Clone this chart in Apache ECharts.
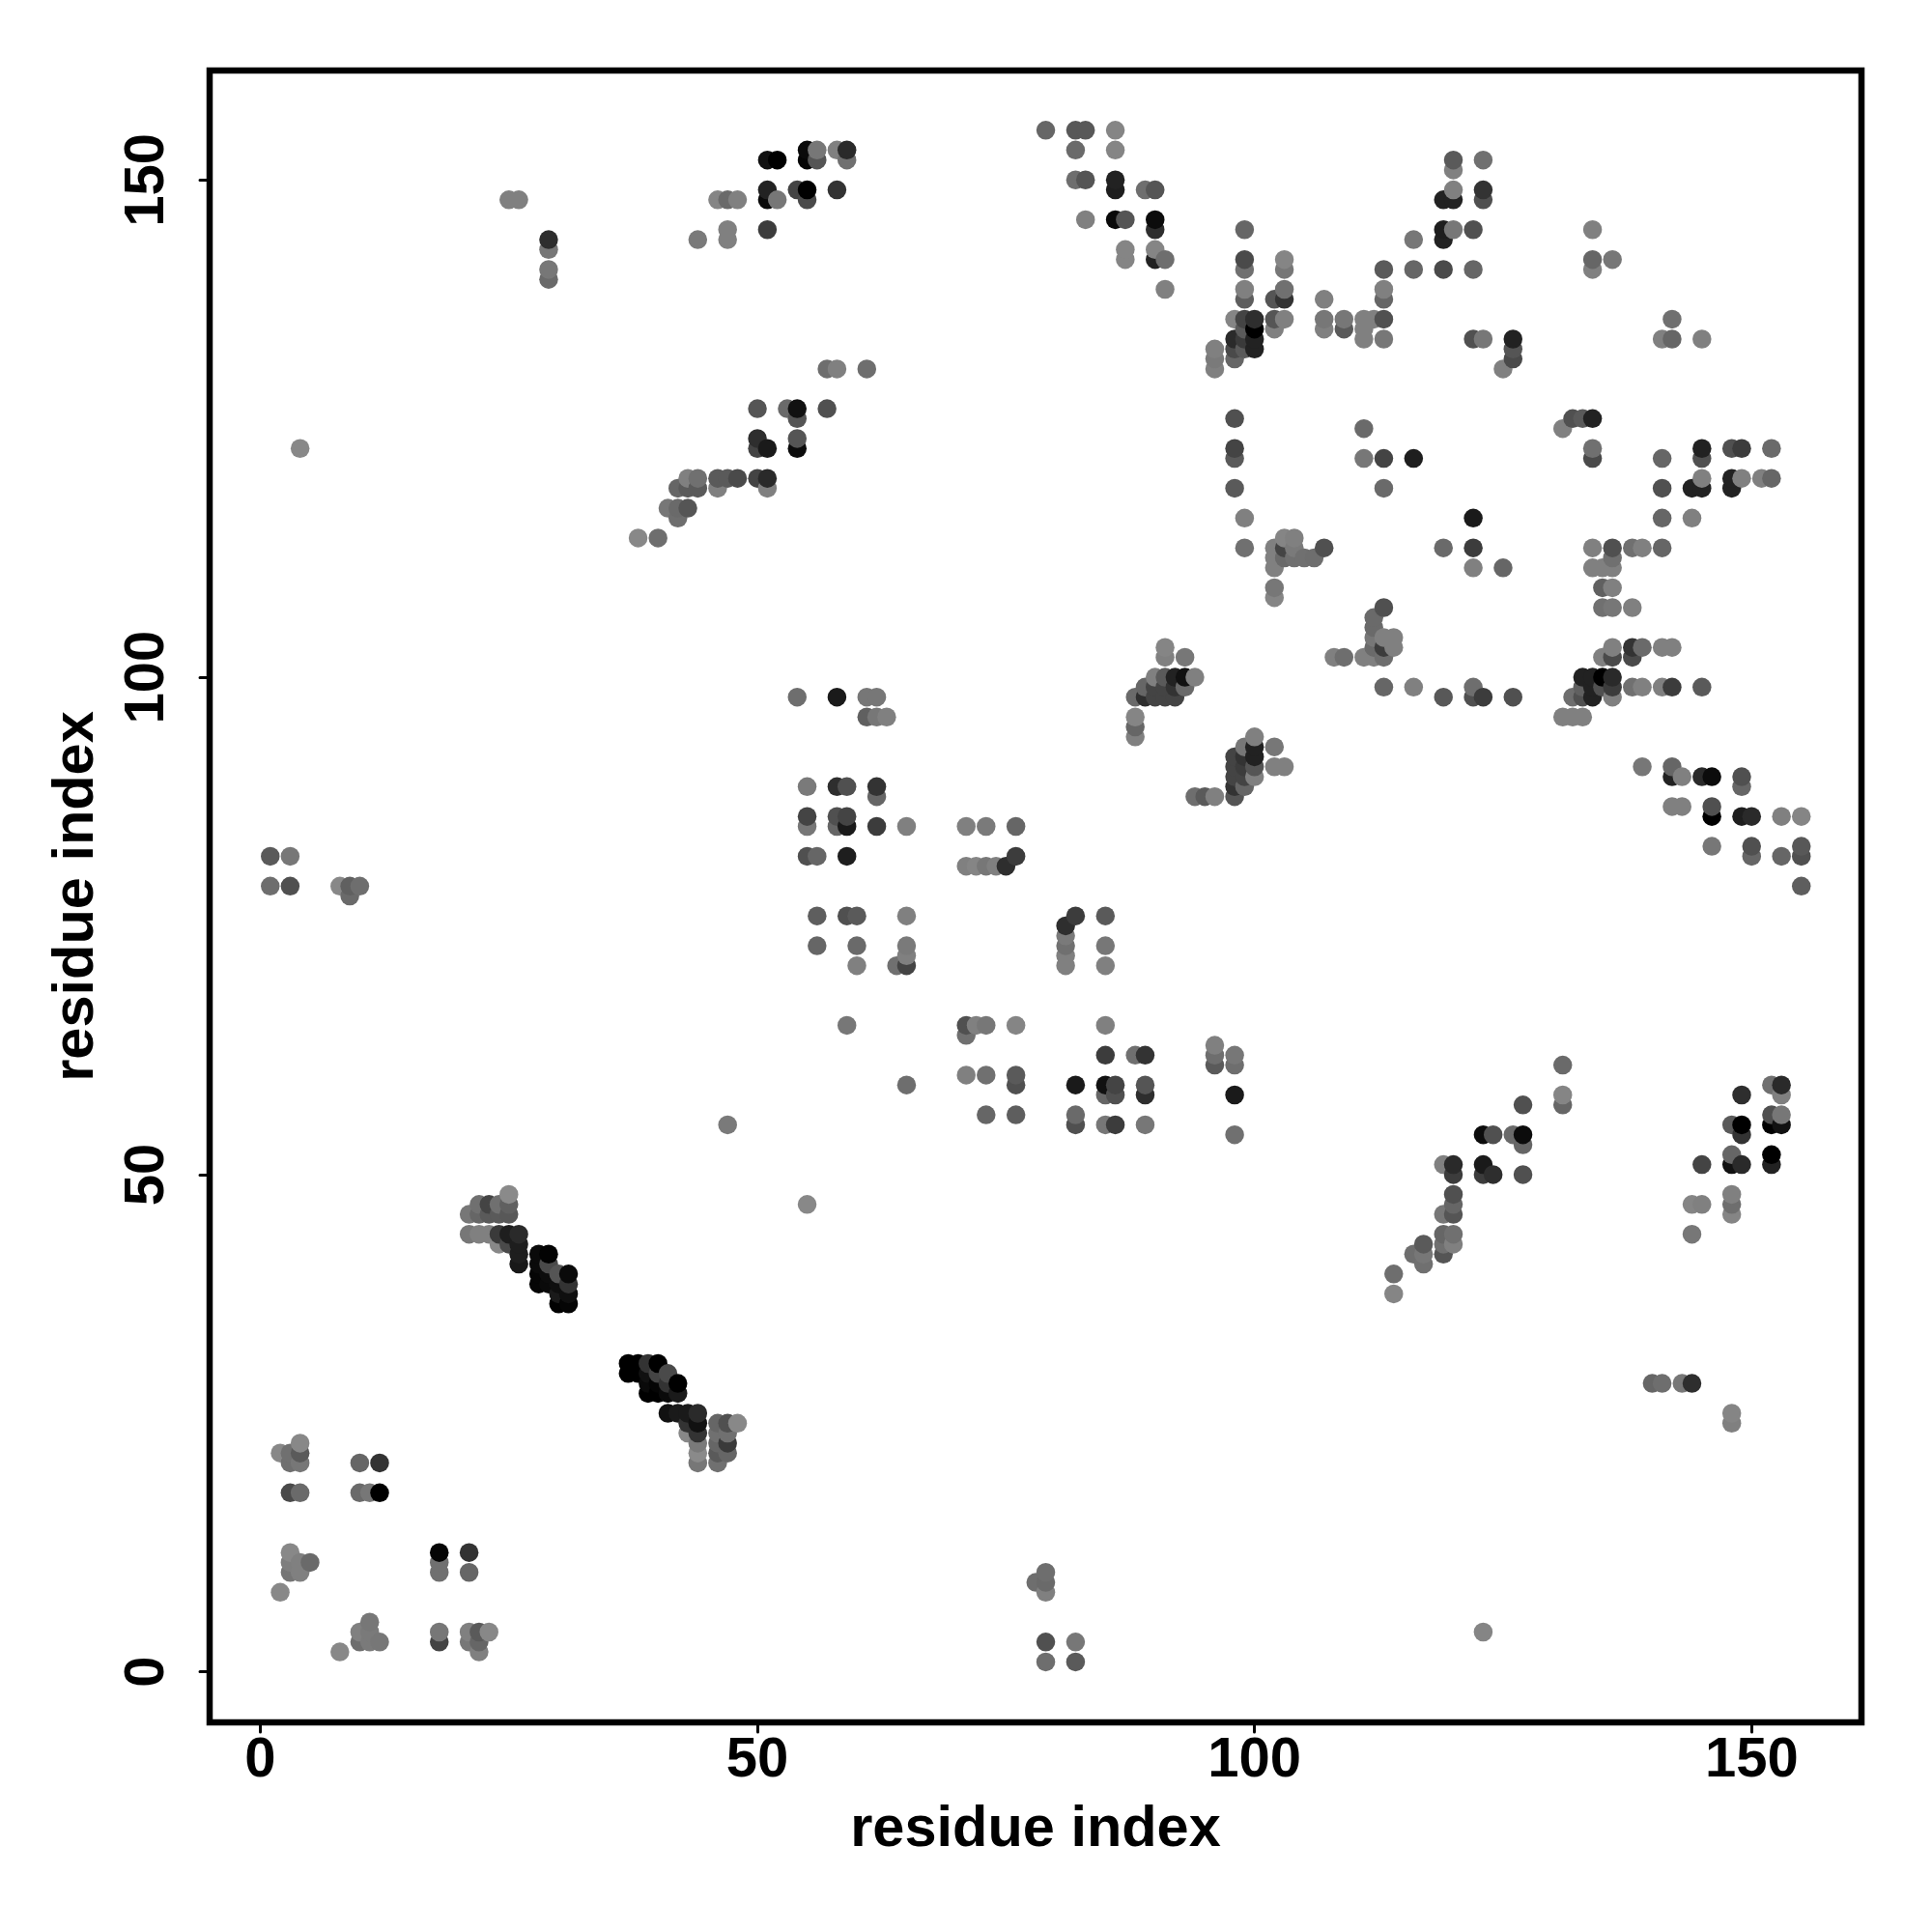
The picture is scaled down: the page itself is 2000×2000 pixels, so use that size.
<!DOCTYPE html>
<html><head><meta charset="utf-8">
<script src="https://cdn.jsdelivr.net/npm/echarts@6/dist/echarts.min.js"></script>
<style>html,body{margin:0;padding:0;background:#fff}#c{width:2000px;height:2000px}</style>
</head><body><div id="c"></div>
<script>
const tickValues=[0,50,100,150];
const axisTitle='residue index';
// residue i, with the contacting residues j and the grey level of each contact
const residueI=[1,2,3,4,5,8,9,10,11,12,18,21,22,23,24,25,26,28,29,30,31,37,38,39,40,41,42,43,44,46,47,48,50,51,52,53,54,55,56,57,58,59,60,61,62,63,64,65,71,72,73,74,75,76,78,79,81,82,83,85,86,87,88,89,90,91,92,93,94,95,96,98,99,100,102,103,104,105,106,107,108,109,111,112,113,114,116,117,119,120,122,123,124,125,126,127,131,132,133,134,135,136,138,139,140,141,142,143,144,145,146,148,149,150,151,152,153,155];
const residueJ=[
[79,82],[8,22],[10,11,12,18,21,22,79,82],[10,11,18,21,22,23,123],[11],[2,79],[78,79],[3,4,18,21,79],[3,4,5,18],[3,18,21],
[3,4,10,11,12],[3,4,10,12,44,46],[2,3,4,44,46,47],[4,44,46,47],[43,44,46,47],[43,44,46,47,48,148],[41,42,43,44,148],[39,40,41,42],[39,40,41,42,140,141,143,144],[37,38,39,40],
[37,38,39,40],[30,31],[30,31,114],[28,29,30,31],[28,29,30,31,114],[26,28,29,30,117],[26,28,29,116,117,119],[24,25,26,117,119,120],[21,22,23,24,25,26,119,120,144],[21,22,23,24,25,119,120,148],
[22,23,24,25,55,120,144,145,148],[25,120,148],[120,123,124,127],[119,120,123,145,148,149,152],[148,152],[127],[98,123,124,126,127,149],[47,82,85,86,89,148,149,152,153],[73,76,82,152,153],[127,131],
[85,86,89,98,131,149,153],[65,76,82,85,86,89,152,153],[71,73,76],[96,98,131],[85,88,89,96,98],[96],[71],[59,71,72,73,76,85],[60,64,65,81,85],[65,81],
[56,60,65,81,85],[81],[81],[56,59,60,65,82,85],[9],[1,3,8,9,10,155],[71,72,73,74,75],[1,3,55,56,59,76,150,153,155],[146,150,155],[55,58,59,62,65,71,73,76],
[55,58,59,146,149,150,153,155],[142,143,146],[62,94,95,96,98],[55,58,59,62,98,99,149],[98,99,100,142,143,145,146,149],[98,99,100,102,103,139,142],[98,99,100],[99,100,102],[88,100],[88],
[61,62,63,88,131,132,133],[54,58,61,62,88,89,90,91,92,119,122,123,126,132,133,134,136],[89,90,91,92,93,113,116,133,134,135,136,138,139,141,142,145],[90,91,92,93,94,133,134,135,136],[91,93,108,109,111,112,113,135,136,138],[91,112,113,114,136,138,139,141,142],[112,113,114],[112],[112],[113,135,136,138],
[102],[102,135,136],[102,122,125,134,135,136],[102,103,104,105,106,136],[99,102,103,104,107,119,122,134,136,138,139,141],[38,40,103,104],[42,99,122,141,144],[41,42,43],[42,43,44,46,51,98,113,141,144,145,148],[43,44,46,47,48,50,51,145,148,149,151,152],
[98,99,111,113,116,134,141,145],[4,50,51,54,98,134,148,149,152],[50,54],[111,131],[54,98,132,133,134],[50,53,54,57],[57,58,61,96,125],[96,98,126],[96,98,99,100,126],[98,99,100,111,113,122,123,126,141,142,145],
[99,100,102,107,109,111],[98,99,100,102,103,107,109,111,112,113,142],[99,102,103,107,113],[91,99,103,113],[29],[29,99,103,113,116,119,122,134],[87,90,91,99,103,134,136],[29,87,90],[29,44,47,116,119],[47,51,90,99,119,120,122,123,134],
[83,86,87,90],[25,26,46,47,48,51,52,55,119,120,123],[51,54,55,58,86,89,90,120,123],[82,83,86],[120],[51,52,55,56,59,120,123],[55,56,58,59,82,86],[79,82,83,86]
];
const greyLevels=[
[0x6e,0x5a],[0x88,0x88],[0x75,0x7e,0x88,0x4a,0x6f,0x70,0x50,0x77],[0x80,0x80,0x6a,0x77,0x5a,0x88,0x88],[0x6a],[0x88,0x88],[0x6a,0x60],[0x6e,0x80,0x6a,0x66,0x6e],[0x7a,0x7a,0x77,0x77],[0x77,0x00,0x33],
[0x44,0x77,0x70,0x70,0x05],[0x77,0x80,0x66,0x33,0x77,0x77],[0x80,0x66,0x5a,0x80,0x66,0x70],[0x88,0x80,0x5a,0x44],[0x88,0x3a,0x5a,0x70],[0x4a,0x1e,0x58,0x60,0x8a,0x80],[0x18,0x1e,0x1e,0x2a,0x80],[0x05,0x05,0x0a,0x0a],[0x0a,0x0c,0x4a,0x03,0x6a,0x77,0x77,0x2e],[0x02,0x1a,0x0f,0x55],
[0x05,0x0f,0x33,0x0a],[0x00,0x00],[0x00,0x00,0x88],[0x00,0x0a,0x11,0x33],[0x00,0x05,0x44,0x00,0x6e],[0x11,0x0a,0x33,0x4a,0x77],[0x1a,0x1a,0x00,0x6e,0x6a,0x66],[0x88,0x33,0x1a,0x55,0x5a,0x80],[0x77,0x8a,0x7a,0x33,0x11,0x2a,0x5a,0x70,0x7a],[0x70,0x5a,0x66,0x70,0x66,0x80,0x5a,0x85],
[0x66,0x3a,0x70,0x50,0x7a,0x5a,0x80,0x80,0x6a],[0x88,0x4a,0x80],[0x44,0x44,0x2e,0x55],[0x80,0x2a,0x1a,0x3c,0x0a,0x22,0x11],[0x77,0x00],[0x6a],[0x6e,0x0c,0x55,0x55,0x11,0x44],[0x88,0x50,0x77,0x44,0x7a,0x4a,0x00,0x05,0x0a],[0x66,0x5e,0x66,0x55,0x77],[0x50,0x6e],
[0x66,0x50,0x2e,0x1a,0x80,0x33,0x80],[0x77,0x50,0x1e,0x1a,0x44,0x50,0x70,0x2a],[0x80,0x6a,0x5a],[0x60,0x77,0x6e],[0x3c,0x66,0x33,0x77,0x77],[0x80],[0x70],[0x6e,0x44,0x80,0x7a,0x80,0x80],[0x80,0x70,0x50,0x80,0x80],[0x80,0x85],
[0x66,0x70,0x77,0x77,0x7a],[0x80],[0x2e],[0x5e,0x50,0x5a,0x85,0x3c,0x66],[0x6e],[0x6e,0x50,0x80,0x6a,0x6e,0x66],[0x80,0x80,0x70,0x7a,0x2e],[0x5a,0x77,0x50,0x6a,0x1a,0x3c,0x6e,0x6a,0x58],[0x80,0x55,0x58],[0x77,0x66,0x11,0x3c,0x80,0x80,0x77,0x5a],
[0x3c,0x50,0x44,0x0a,0x1e,0x22,0x85,0x85],[0x85,0x85,0x55],[0x70,0x80,0x66,0x85,0x6a],[0x77,0x2e,0x55,0x33,0x2e,0x66,0x6e],[0x44,0x44,0x80,0x22,0x85,0x2e,0x0c,0x55],[0x44,0x44,0x5a,0x80,0x85,0x80,0x6e],[0x44,0x33,0x22],[0x6a,0x11,0x77],[0x6e,0x80],[0x5a],
[0x5a,0x6e,0x80,0x80,0x80,0x7a,0x80],[0x70,0x1a,0x6e,0x77,0x55,0x33,0x44,0x44,0x44,0x5a,0x5a,0x44,0x50,0x66,0x4a,0x2a,0x85],[0x66,0x44,0x3c,0x33,0x77,0x70,0x80,0x5a,0x3a,0x5a,0x44,0x5e,0x80,0x70,0x4a,0x66],[0x80,0x55,0x22,0x22,0x80,0x22,0x22,0x00,0x2e],[0x80,0x77,0x85,0x77,0x80,0x80,0x80,0x80,0x55,0x55],[0x80,0x6a,0x44,0x85,0x80,0x33,0x70,0x77,0x85],[0x70,0x7a,0x80],[0x70],[0x6e],[0x50,0x80,0x77,0x80],
[0x80],[0x6e,0x5a,0x77],[0x80,0x77,0x6a,0x80,0x80,0x80],[0x80,0x6a,0x77,0x6a,0x6a,0x80],[0x66,0x6e,0x3c,0x80,0x50,0x6a,0x44,0x77,0x50,0x66,0x80,0x5a],[0x85,0x6e,0x80,0x80],[0x6e,0x80,0x1e,0x66,0x77],[0x70,0x77,0x5a],[0x55,0x70,0x66,0x77,0x80,0x58,0x6a,0x4a,0x22,0x1e,0x22],[0x80,0x70,0x55,0x66,0x50,0x3c,0x2a,0x77,0x22,0x80,0x80,0x5a],
[0x50,0x6e,0x80,0x3c,0x1a,0x50,0x66,0x50],[0x85,0x3c,0x1a,0x0c,0x3c,0x77,0x50,0x33,0x70],[0x2e,0x50],[0x66,0x80],[0x6a,0x50,0x4a,0x55,0x22],[0x50,0x66,0x0c,0x50],[0x66,0x85,0x6a,0x80,0x80],[0x80,0x6e,0x50],[0x80,0x50,0x60,0x22,0x5a],[0x22,0x22,0x22,0x80,0x80,0x4a,0x70,0x22,0x80,0x66,0x80],
[0x50,0x00,0x80,0x70,0x60,0x80],[0x80,0x3c,0x2a,0x4a,0x80,0x77,0x80,0x80,0x70,0x50,0x77],[0x70,0x4a,0x33,0x80,0x70],[0x77,0x80,0x6a,0x80],[0x66],[0x6e,0x80,0x80,0x66,0x66,0x50,0x66,0x80],[0x80,0x22,0x66,0x3c,0x80,0x66,0x70],[0x77,0x80,0x80],[0x2e,0x77,0x85,0x80,0x22],[0x80,0x44,0x2a,0x5a,0x22,0x80,0x50,0x22,0x80],
[0x77,0x00,0x50,0x0c],[0x80,0x85,0x85,0x6e,0x80,0x11,0x66,0x5a,0x22,0x22,0x50],[0x2a,0x33,0x00,0x2e,0x1e,0x66,0x50,0x80,0x3c],[0x66,0x50,0x2a],[0x80],[0x22,0x00,0x00,0x50,0x70,0x66,0x6a],[0x11,0x77,0x80,0x2a,0x66,0x80],[0x5e,0x50,0x58,0x85]
];
const points=[];
residueI.forEach((x,k)=>residueJ[k].forEach((y,m)=>points.push([x,y,greyLevels[k][m]])));

const font='"Liberation Sans"';
const axisCommon={type:'value',splitLine:{show:false},axisLine:{show:false,onZero:false},
  axisTick:{show:true,length:10,customValues:tickValues,lineStyle:{color:'#000',width:3,cap:'round'}},
  name:axisTitle,nameLocation:'middle',
  nameTextStyle:{fontFamily:font,fontWeight:'bold',fontSize:59.5,color:'#000'}};
const chart=echarts.init(document.getElementById('c'),null,{renderer:'canvas'});
chart.setOption({animation:false,backgroundColor:'#fff',
  grid:{show:true,left:217,top:73,width:1710,height:1710,borderColor:'#000',borderWidth:6.5,backgroundColor:'transparent'},
  xAxis:Object.assign({},axisCommon,{min:-5.1,max:161.05,nameGap:82,
    axisLabel:{customValues:tickValues,margin:11,fontFamily:font,fontWeight:'bold',fontSize:58,color:'#000'}}),
  yAxis:Object.assign({},axisCommon,{min:-5.08,max:161,nameGap:107,
    axisLabel:{customValues:tickValues,rotate:90,margin:35,fontFamily:font,fontWeight:'bold',fontSize:58,color:'#000',align:'center',verticalAlign:'bottom'}}),
  series:[{type:'scatter',data:points,symbol:'circle',symbolSize:19.5,clip:false,large:false,progressive:0,
    itemStyle:{opacity:1,color:p=>{const g=p.value[2];return 'rgb('+g+','+g+','+g+')';}},
    emphasis:{disabled:true}}]
});
</script></body></html>
